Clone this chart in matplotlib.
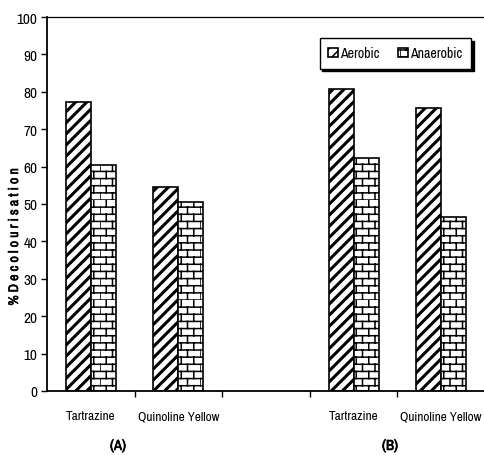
import matplotlib

matplotlib.use("Agg")
import matplotlib.pyplot as plt
import matplotlib.hatch as mhatch
import matplotlib.patheffects as pe
import numpy as np
from matplotlib import font_manager as fm
from matplotlib.path import Path

# data
categories = ["Tartrazine", "Quinoline Yellow", "", "Tartrazine", "Quinoline Yellow"]
aerobic = [77.2, 54.6, np.nan, 80.7, 75.8]
anaerobic = [60.4, 50.6, np.nan, 62.4, 46.5]
panel_labels = ["(A)", "(B)"]
yticks = list(range(0, 101, 10))


class BrickHatch(mhatch.HatchPatternBase):
    """Brick-wall hatch, used in place of the 'O' pattern."""

    rows = 14
    cols = 8

    def __init__(self, hatch, density):
        on = hatch.count("O") > 0
        n = self.rows * 2 + self.rows * self.cols * 2
        self.num_vertices = n if on else 0

    def set_vertices_and_codes(self, vertices, codes):
        k = 0
        for i in range(self.rows):
            y = i / self.rows
            vertices[k] = (0.0, y)
            vertices[k + 1] = (1.0, y)
            codes[k] = Path.MOVETO
            codes[k + 1] = Path.LINETO
            k += 2
        for i in range(self.rows):
            y0, y1 = i / self.rows, (i + 1) / self.rows
            off = 0.5 * (i % 2)
            for j in range(self.cols):
                xx = (j + off) / self.cols
                vertices[k] = (xx, y0)
                vertices[k + 1] = (xx, y1)
                codes[k] = Path.MOVETO
                codes[k + 1] = Path.LINETO
                k += 2


mhatch._hatch_types[:] = [t for t in mhatch._hatch_types
                          if t is not mhatch.LargeCircles] + [BrickHatch]

# pick a narrow sans (the original is Arial Narrow)
installed = {f.name for f in fm.fontManager.ttflist}
narrow = None
for cand in ["Liberation Sans Narrow", "Arial Narrow", "Archivo Narrow",
             "PT Sans Narrow", "Roboto Condensed", "Open Sans Condensed"]:
    if cand in installed:
        narrow = cand
        break
if narrow is None:
    plt.rcParams["font.family"] = ["DejaVu Sans"]
    plt.rcParams["font.stretch"] = "condensed"
else:
    plt.rcParams["font.family"] = [narrow, "DejaVu Sans"]
plt.rcParams["hatch.color"] = "black"

# fake bold in case the narrow face has no bold weight
bold_fx = [pe.withStroke(linewidth=0.45, foreground="black")]

fig = plt.figure(figsize=(4.85, 4.56), dpi=100)
ax = fig.add_axes([47 / 485, 1 - 392 / 456, 1 - 47 / 485, (392 - 18) / 456])

x = np.arange(len(categories))
w = 0.285

plt.rcParams["hatch.linewidth"] = 2.2
b1 = ax.bar(x - w / 2, aerobic, w, color="white", edgecolor="black",
            linewidth=1.2, hatch="///", label="Aerobic")
plt.rcParams["hatch.linewidth"] = 1.1
b2 = ax.bar(x + w / 2, anaerobic, w, color="white", edgecolor="black",
            linewidth=1.2, hatch="O", label="Anaerobic")
for p in b1:
    if hasattr(p, "set_hatch_linewidth"):
        p.set_hatch_linewidth(2.2)
for p in b2:
    if hasattr(p, "set_hatch_linewidth"):
        p.set_hatch_linewidth(1.1)

ax.set_xlim(-0.5, len(categories) - 0.5)
ax.set_ylim(0, 100)
ax.set_yticks(yticks)
ax.set_xticks(x)
ax.set_xticklabels(categories, fontsize=9.5)
ax.set_xticks(x[:-1] + 0.5, minor=True)
ax.tick_params(axis="x", which="major", length=0, pad=14)
ax.tick_params(axis="x", which="minor", length=4, width=1, direction="out")
ax.tick_params(axis="y", length=4, width=1, direction="out", pad=3, labelsize=11)

ax.spines["right"].set_visible(False)
ax.spines["top"].set_linewidth(0.9)
ax.spines["left"].set_linewidth(1.3)
ax.spines["bottom"].set_linewidth(1.3)

fig.text(14 / 485, 1 - 238 / 456, "% D e c o l o u r i s a t i o n",
         rotation=90, ha="center", va="center", fontsize=10, fontweight="bold",
         path_effects=bold_fx)
fig.text(118 / 485, 1 - 447 / 456, panel_labels[0], ha="center", va="center",
         fontsize=10.5, fontweight="bold", path_effects=bold_fx)
fig.text(390 / 485, 1 - 447 / 456, panel_labels[1], ha="center", va="center",
         fontsize=10.5, fontweight="bold", path_effects=bold_fx)

leg = ax.legend(ncol=2, loc="upper right", frameon=True, fancybox=False,
                shadow={"color": "black", "alpha": 1.0}, edgecolor="black",
                fontsize=10, handlelength=0.7, handleheight=0.7, handletextpad=0.2,
                columnspacing=1.3, borderpad=0.6, borderaxespad=0)
leg.get_frame().set_linewidth(1.0)
leg.set_bbox_to_anchor((471 / 485, 1 - 39 / 456), transform=fig.transFigure)

fig.savefig("out.png", dpi=100)
